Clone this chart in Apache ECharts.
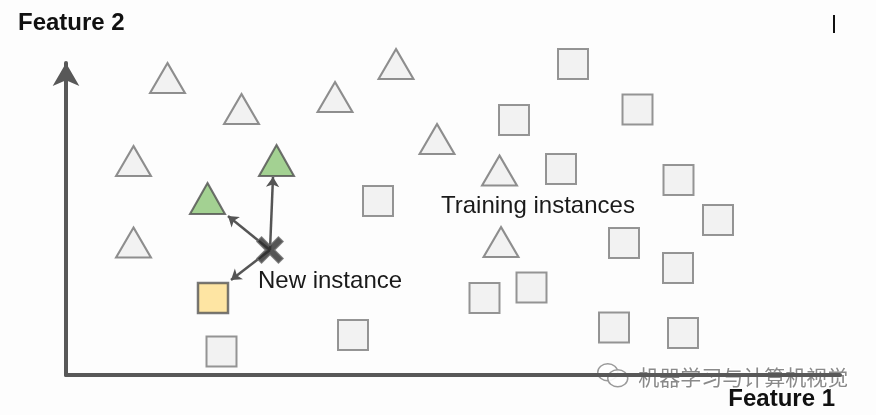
<!DOCTYPE html>
<html>
<head>
<meta charset="utf-8">
<script src="https://cdn.jsdelivr.net/npm/echarts@6/dist/echarts.min.js"></script>
<style>
  html, body { margin: 0; padding: 0; background: #fdfdfd; }
  #knn-chart { width: 876px; height: 415px; }
</style>
</head>
<body>
<div id="knn-chart"></div>
<script>
  // positions measured from the axis corner (feature 1, feature 2)
  var grayTriangles = [
    [101.5, 297], [175.5, 266], [269, 278], [330, 311], [371, 236],
    [67.5, 214], [433.5, 204.5], [67.5, 132.5], [435, 133]
  ];
  var greenTriangles = [[210.5, 214.5], [141.5, 176.5]];
  var graySquares = [
    [507, 311], [571.5, 265.5], [448, 255], [495, 206], [612.5, 195],
    [652, 155], [558, 132], [612, 107], [465.5, 87.5], [418.5, 77],
    [287, 40], [548, 47.5], [617, 42], [312, 174], [155.5, 23.5]
  ];
  var yellowSquares = [[147, 77]];
  var newInstance = [204, 125];
  var arrowTips = [[162, 159], [207, 198], [165, 95]];

  var axisNames = ['Feature 1', 'Feature 2'];
  var textLabels = ['Training instances', 'New instance'];
  var watermark = '机器学习与计算机视觉';

  var chartDom = document.getElementById('knn-chart');
  var chart = echarts.init(chartDom);

  var axisColor = '#585858';
  var font = 'Liberation Sans, Arial, sans-serif';

  var option = {
    backgroundColor: '#fdfdfd',
    animation: false,
    grid: {
      left: 66,
      right: 36,
      top: 63,
      bottom: 40
    },
    xAxis: {
      type: 'value',
      min: 0,
      max: 774,
      splitLine: { show: false },
      axisTick: { show: false },
      axisLabel: { show: false },
      axisLine: {
        onZero: false,
        lineStyle: { color: axisColor, width: 4 }
      }
    },
    yAxis: {
      type: 'value',
      min: 0,
      max: 312,
      splitLine: { show: false },
      axisTick: { show: false },
      axisLabel: { show: false },
      axisLine: {
        onZero: false,
        symbol: ['none', 'arrow'],
        symbolSize: [20, 23],
        lineStyle: { color: axisColor, width: 4 }
      }
    },
    series: [
      {
        type: 'lines',
        coordinateSystem: 'cartesian2d',
        symbol: ['none', 'arrow'],
        symbolSize: 10,
        lineStyle: { color: '#555555', width: 2.5, opacity: 1 },
        data: arrowTips.map(function (tip) {
          return { coords: [newInstance, tip] };
        }),
        z: 3
      },
      {
        type: 'scatter',
        symbol: 'triangle',
        symbolSize: [35, 30],
        itemStyle: { color: '#efefef', borderColor: '#737373', borderWidth: 2 },
        data: grayTriangles,
        z: 2
      },
      {
        type: 'scatter',
        symbol: 'triangle',
        symbolSize: [35, 31],
        itemStyle: { color: '#8cc577', borderColor: '#505050', borderWidth: 2 },
        data: greenTriangles,
        z: 4
      },
      {
        type: 'scatter',
        symbol: 'rect',
        symbolSize: [30, 30],
        itemStyle: { color: '#efefef', borderColor: '#7a7a7a', borderWidth: 2 },
        data: graySquares,
        z: 2
      },
      {
        type: 'scatter',
        symbol: 'rect',
        symbolSize: [30, 30],
        itemStyle: { color: '#fedf8c', borderColor: '#555555', borderWidth: 2.5 },
        data: yellowSquares,
        z: 4
      },
      {
        type: 'scatter',
        symbol: 'path://M3.5,0 L10,6.5 L16.5,0 L20,3.5 L13.5,10 L20,16.5 L16.5,20 L10,13.5 L3.5,20 L0,16.5 L6.5,10 L0,3.5 Z',
        symbolSize: [26, 26],
        itemStyle: { color: '#2a2a2a', borderColor: '#6a6a6a', borderWidth: 1.5 },
        data: [newInstance],
        z: 5
      }
    ],
    graphic: [
      {
        type: 'text',
        left: 18,
        top: 11,
        style: { text: axisNames[1], font: 'bold 24px ' + font, fill: '#111111' }
      },
      {
        type: 'text',
        right: 41,
        top: 387,
        style: { text: axisNames[0], font: 'bold 24px ' + font, fill: '#111111' }
      },
      {
        type: 'text',
        left: 441,
        top: 194,
        style: { text: textLabels[0], font: '24px ' + font, fill: '#1a1a1a' }
      },
      {
        type: 'text',
        left: 258,
        top: 269,
        style: { text: textLabels[1], font: '24px ' + font, fill: '#1a1a1a' }
      },
      {
        type: 'line',
        shape: { x1: 834, y1: 15, x2: 834, y2: 33 },
        style: { stroke: '#111111', lineWidth: 2 }
      },
      {
        type: 'group',
        left: 597,
        top: 363,
        z: 100,
        children: [
          {
            type: 'ellipse',
            shape: { cx: 11, cy: 10, rx: 10, ry: 8.5 },
            style: { fill: 'rgba(255,255,255,0.85)', stroke: '#9a9a9a', lineWidth: 1.5 }
          },
          {
            type: 'ellipse',
            shape: { cx: 21, cy: 16, rx: 10, ry: 8.5 },
            style: { fill: 'rgba(255,255,255,0.9)', stroke: '#9a9a9a', lineWidth: 1.5 }
          },
          {
            type: 'text',
            left: 40,
            top: 3,
            style: {
              text: watermark,
              font: '21px "Noto Sans CJK SC", sans-serif',
              fill: '#8a8a8a',
              stroke: '#ffffff',
              lineWidth: 3
            }
          }
        ]
      }
    ]
  };

  chart.setOption(option, true);
</script>
</body>
</html>
